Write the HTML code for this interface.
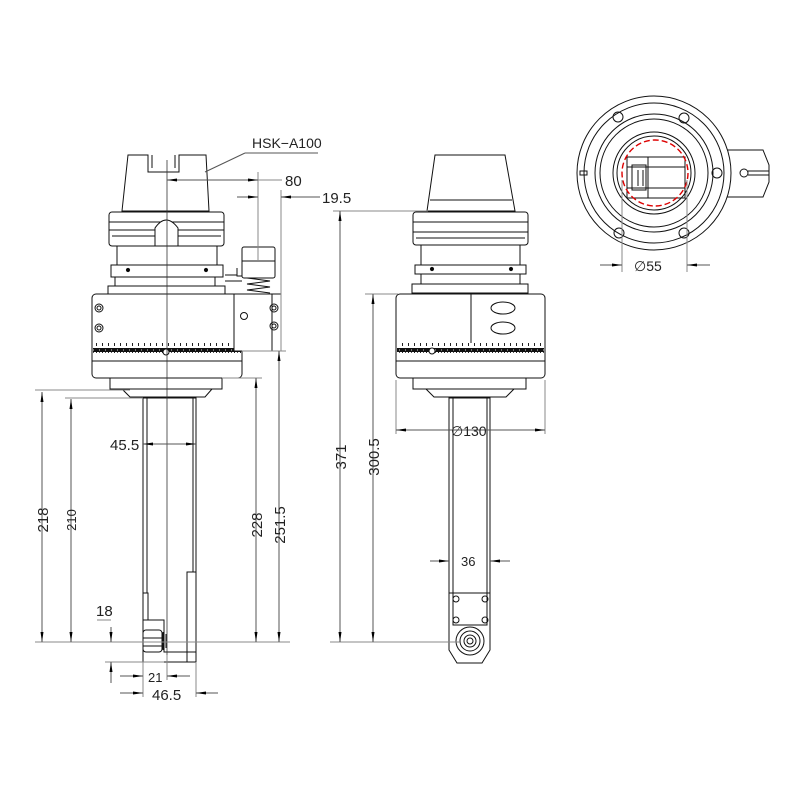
<!DOCTYPE html>
<html><head><meta charset="utf-8"><style>
html,body{margin:0;padding:0;background:#fff;width:800px;height:800px;overflow:hidden}
svg{display:block}
text{font-family:"Liberation Sans",sans-serif;fill:#222}
</style></head><body>
<svg width="800" height="800" viewBox="0 0 800 800" xmlns="http://www.w3.org/2000/svg">
<defs>
<marker id="a" viewBox="0 0 10 6" refX="10" refY="3" markerWidth="10" markerHeight="6" orient="auto-start-reverse" markerUnits="userSpaceOnUse"><path d="M0,1.5L10,3L0,4.5z" fill="#000"/></marker>
<pattern id="tk" width="6" height="12" patternUnits="userSpaceOnUse"><rect x="0" y="0" width="6" height="4" fill="#111"/><rect x="3" y="1" width="1" height="2" fill="#777"/><rect x="0" y="4" width="1" height="6" fill="#222"/><rect x="3" y="4" width="1" height="3" fill="#555"/></pattern>
</defs>
<g fill="none" stroke="#111" stroke-width="1">
<!-- LEFT VIEW -->
<path d="M128,155 L148,155 L148,172 L179,172 L179,155 L206,155 L209,211 L122,211 Z" fill="#fff"/>
<path d="M152,155 L152,168 M175,155 L175,168"/>
<rect x="109" y="212" width="115" height="34" rx="3" fill="#fff"/>
<path d="M109,230 H224 M112,236 H221 M109,222 H224"/>
<path d="M155,246 V228 Q166,212 178,228 V246" fill="#fff"/>
<rect x="117" y="246" width="100" height="19"/>
<rect x="111" y="265" width="112" height="12"/>
<circle cx="128" cy="270" r="1.6" fill="#000"/><circle cx="206" cy="270" r="1.6" fill="#000"/>
<rect x="115" y="277" width="100" height="9"/>
<rect x="108" y="286" width="117" height="8" fill="#fff"/>
<rect x="92" y="294" width="150" height="84" rx="4" fill="#fff"/>
<rect x="93" y="343" width="148" height="10" fill="url(#tk)" stroke="none"/>
<path d="M92,361 H242"/>
<circle cx="166" cy="352" r="3" fill="#fff"/>
<circle cx="99" cy="308" r="4"/><circle cx="99" cy="308" r="2"/>
<circle cx="99" cy="328" r="4"/><circle cx="99" cy="328" r="2"/>
<rect x="234" y="294" width="47" height="57" fill="#fff"/>
<path d="M272,294 V351"/>
<circle cx="244" cy="316" r="3.5"/>
<circle cx="274" cy="308" r="4"/><circle cx="274" cy="308" r="2"/>
<circle cx="274" cy="326" r="4"/><circle cx="274" cy="326" r="2"/>
<rect x="242" y="247" width="33" height="31" rx="2" fill="#fff"/>
<path d="M242,261 H275"/>
<path d="M247,278 L270,281 L247,284 L270,287 L247,290 L270,293"/>
<path d="M237,268 V276 H242 M225,275 H237 M225,281 H242"/>
<rect x="110" y="378" width="112" height="11"/>
<path d="M122,389 L130,397 L205,397 L212,389"/>
<rect x="143" y="398" width="53" height="264" fill="#fff"/>
<path d="M147,398 V593 M193,398 V572"/>
<rect x="187" y="572" width="9" height="90"/>
<rect x="143" y="593" width="5" height="27"/>
<path d="M143,620 H164 V652 H196"/>
<rect x="143" y="630" width="19" height="22" rx="3" fill="#fff"/>
<path d="M143,638 H162 M143,646 H162 M163,632 V650 M166,634 V648"/>
<!-- MIDDLE VIEW -->
<path d="M435,155 L505,155 L515,211 L427,211 Z" fill="#fff"/>
<path d="M430,200 H512"/>
<rect x="413" y="212" width="115" height="33" rx="3" fill="#fff"/>
<path d="M413,232 H528 M416,238 H525 M413,222 H528"/>
<rect x="421" y="245" width="99" height="20"/>
<rect x="415" y="265" width="111" height="9"/>
<circle cx="432" cy="269" r="1.6" fill="#000"/><circle cx="511" cy="269" r="1.6" fill="#000"/>
<rect x="421" y="274" width="99" height="10"/>
<rect x="412" y="284" width="116" height="9" fill="#fff"/>
<rect x="396" y="294" width="149" height="84" rx="4" fill="#fff"/>
<rect x="397" y="343" width="147" height="10" fill="url(#tk)" stroke="none"/>
<path d="M396,361 H545 M471,294 V343"/>
<circle cx="432" cy="351" r="3" fill="#fff"/>
<ellipse cx="503" cy="308" rx="12" ry="6"/><ellipse cx="503" cy="328" rx="12" ry="6"/>
<rect x="413" y="378" width="113" height="11"/>
<path d="M426,389 L434,397 L506,397 L514,389"/>
<path d="M449,398 V650 L457,663 H482 L490,650 V398 Z" fill="#fff"/>
<path d="M453,398 V593 M487,398 V593 M449,593 H490 M453,593 V625 H487 V593"/>
<circle cx="456" cy="599" r="3"/><circle cx="485" cy="599" r="3"/><circle cx="456" cy="620" r="3"/><circle cx="485" cy="620" r="3"/>
<circle cx="470" cy="641" r="14"/><circle cx="470" cy="641" r="10"/><circle cx="470" cy="641" r="6"/><circle cx="470" cy="641" r="3"/>
<!-- RIGHT VIEW -->
<path d="M723,150 H763 L769,165 V182 L763,197 H723" fill="#fff"/>
<circle cx="654" cy="173" r="77" fill="#fff"/>
<circle cx="654" cy="173" r="70"/>
<circle cx="654" cy="173" r="59"/>
<circle cx="654" cy="173" r="54"/>
<circle cx="654" cy="173" r="41"/>
<circle cx="654" cy="173" r="37"/>
<circle cx="618" cy="117" r="5"/><circle cx="684" cy="118" r="5"/><circle cx="619" cy="233" r="5"/><circle cx="684" cy="233" r="5"/><circle cx="717" cy="173" r="5"/>
<path d="M580,171 H587 V175 H580 Z"/>
<circle cx="744" cy="173" r="4"/><path d="M748,171 H769 M748,175 H769"/>
<rect x="627" y="157" width="58" height="41"/>
<path d="M627,167 H685 M627,188 H685 M648,157 V198 M632,165 H646 V190 H632 Z M638,170 V186 M643,170 V186"/>
<circle cx="655" cy="173" r="33" stroke="#d00" stroke-width="1.4" stroke-dasharray="6,3"/>
</g>
<g stroke="#333" stroke-width="0.8" fill="none">
<path d="M167,160 V662"/>
</g>
<!-- DIMENSIONS -->
<g stroke="#888" stroke-width="1" fill="none">
<path d="M35,390 H130 M65,398 H143 M35,642 H290 M222,378 H262 M242,351 H286 M330,642 H460 M333,211 H428 M365,294 H398"/>
<path d="M258,172 V262 M281,190 V351"/>
<path d="M42,392 V642" marker-start="url(#a)" marker-end="url(#a)" stroke="#555"/>
<path d="M71,399 V642" marker-start="url(#a)" marker-end="url(#a)" stroke="#555"/>
<path d="M256,378 V642" marker-start="url(#a)" marker-end="url(#a)" stroke="#555"/>
<path d="M279,351 V642" marker-start="url(#a)" marker-end="url(#a)" stroke="#555"/>
<path d="M340,211 V642" marker-start="url(#a)" marker-end="url(#a)" stroke="#555"/>
<path d="M373,294 V642" marker-start="url(#a)" marker-end="url(#a)" stroke="#555"/>
<path d="M143,444 H196" stroke="#555" marker-start="url(#a)" marker-end="url(#a)"/>
<path d="M167,180 H258" stroke="#555" marker-start="url(#a)" marker-end="url(#a)"/>
<path d="M258,180 H282"/>
<path d="M237,197 H258" stroke="#555" marker-end="url(#a)"/>
<path d="M320,197 H281" stroke="#555" marker-end="url(#a)"/>
<path d="M245,153 H318 M245,153 L205,172" stroke="#555"/>
<path d="M97,620 H111 M105,662 H164 M143,662 V697 M167,655 V680 M196,662 V697"/>
<path d="M111,627 V642" stroke="#555" marker-end="url(#a)"/>
<path d="M111,683 V662" stroke="#555" marker-end="url(#a)"/>
<path d="M120,676 H143" stroke="#555" marker-end="url(#a)"/>
<path d="M190,676 H167" stroke="#555" marker-end="url(#a)"/>
<path d="M120,693 H143" stroke="#555" marker-end="url(#a)"/>
<path d="M218,693 H196" stroke="#555" marker-end="url(#a)"/>
<path d="M396,380 V434 M545,380 V434"/>
<path d="M396,430 H545" stroke="#555" marker-start="url(#a)" marker-end="url(#a)"/>
<path d="M430,561 H449" stroke="#555" marker-end="url(#a)"/>
<path d="M510,561 H490" stroke="#555" marker-end="url(#a)"/>
<path d="M622,180 V272 M687,180 V272"/>
<path d="M600,265 H622" stroke="#555" marker-end="url(#a)"/>
<path d="M710,265 H687" stroke="#555" marker-end="url(#a)"/>
</g>
<g font-size="15">
<text x="252" y="148" font-size="14">HSK−A100</text>
<text x="285" y="186">80</text>
<text x="322" y="203">19.5</text>
<text x="110" y="450">45.5</text>
<text x="96" y="616">18</text>
<text x="148" y="682" font-size="13">21</text>
<text x="152" y="700">46.5</text>
<text transform="translate(48,520) rotate(-90)" text-anchor="middle">218</text>
<text transform="translate(76,520) rotate(-90)" text-anchor="middle" fill="#555" font-size="13">210</text>
<text transform="translate(262,525) rotate(-90)" text-anchor="middle">228</text>
<text transform="translate(285,525) rotate(-90)" text-anchor="middle">251.5</text>
<text transform="translate(346,457) rotate(-90)" text-anchor="middle">371</text>
<text transform="translate(379,457) rotate(-90)" text-anchor="middle">300.5</text>
<text x="451" y="436" font-size="14">∅130</text>
<text x="461" y="566" font-size="13">36</text>
<text x="634" y="271" font-size="14">∅55</text>
</g>
</svg>
</body></html>
